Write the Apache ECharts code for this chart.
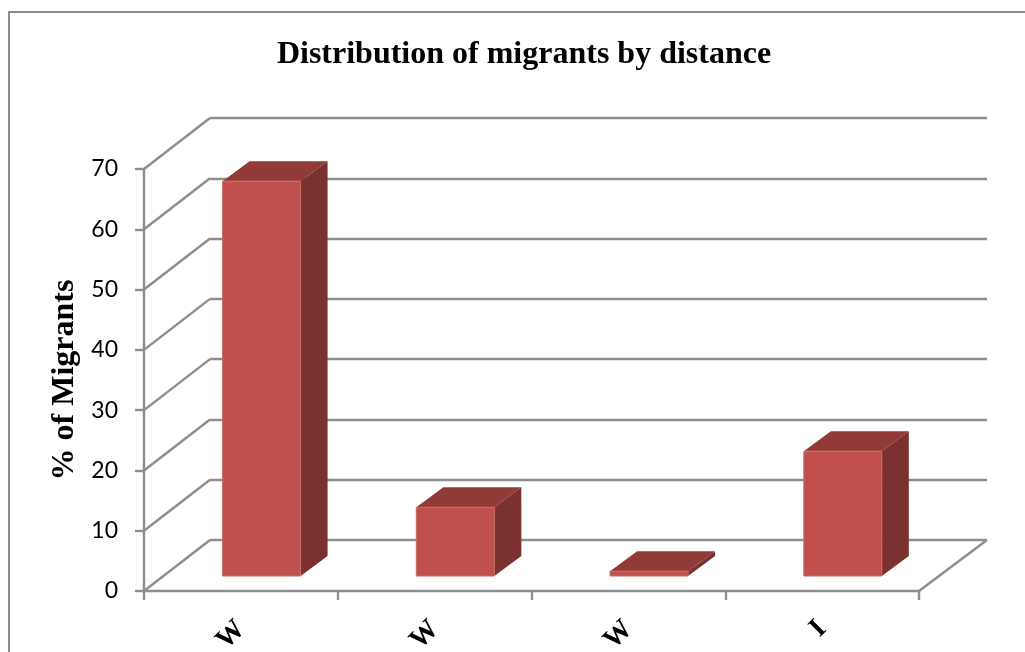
<!DOCTYPE html>
<html><head><meta charset="utf-8">
<style>html,body{margin:0;padding:0;background:#fff}#c{width:1025px;height:652px}</style>
<script src="https://cdn.jsdelivr.net/npm/echarts@6/dist/echarts.min.js"></script>
</head><body><div id="c"></div>
<script>
const categories = ['W', 'W', 'W', 'I'];
const migrants = [65.5, 11.4, 0.8, 20.7];
const yTicks = [0, 10, 20, 30, 40, 50, 60, 70];
const titleText = 'Distribution of migrants by distance';
const yName = '% of Migrants';

const W = 1025, H = 652;
const wall = { dx: 66, dy: -51 };
const GRID = '#8e8e8e';
const LW = 2.4;
const chart = echarts.init(document.getElementById('c'), null, { renderer: 'canvas', width: W, height: H });

function box(params, api) {
  const i = api.value(0), v = api.value(1);
  const top = api.coord([i, v]), base = api.coord([i, 0]);
  const w = 78, off = { x: 20.7, y: -15 }, d = { x: 27, y: -20 };
  const x0 = top[0] + off.x - w / 2, x1 = x0 + w;
  const y0 = top[1] + off.y, y1 = base[1] + off.y;
  return { type: 'group', children: [
    { type: 'polygon', shape: { points: [[x0, y0], [x1, y0], [x1 + d.x, y0 + d.y], [x0 + d.x, y0 + d.y]] }, style: { fill: '#923a38' } },
    { type: 'polygon', shape: { points: [[x1, y0], [x1 + d.x, y0 + d.y], [x1 + d.x, y1 + d.y], [x1, y1]] }, style: { fill: '#7b312f' } },
    { type: 'rect', shape: { x: x0, y: y0, width: w, height: y1 - y0 }, style: { fill: '#c0504d', stroke: '#c96a67', lineWidth: 1 } }
  ] };
}
function diagonal(params, api) {
  const p = api.coord([0, api.value(1)]);
  const half = api.size([1, 0])[0] / 2;
  const x = p[0] - half;
  return { type: 'line', shape: { x1: x, y1: p[1], x2: x + wall.dx, y2: p[1] + wall.dy }, style: { stroke: GRID, lineWidth: LW } };
}
function floorEdge(params, api) {
  const p = api.coord([categories.length - 1, 0]);
  const half = api.size([1, 0])[0] / 2;
  const x = p[0] + half;
  return { type: 'line', shape: { x1: x, y1: p[1], x2: x + wall.dx + 2, y2: p[1] + wall.dy }, style: { stroke: GRID, lineWidth: LW } };
}

chart.setOption({
  animation: false,
  backgroundColor: '#fff',
  title: { text: titleText, left: 519, top: 34, textAlign: 'center',
    textStyle: { fontFamily: 'Liberation Serif', fontWeight: 'bold', fontSize: 32, color: '#000' } },
  graphic: [
    { type: 'rect', silent: true, z: -1, shape: { x: 9, y: 12, width: 1040, height: 700 }, style: { fill: 'none', stroke: '#8c8c8c', lineWidth: 2 } }
  ],
  grid: [
    { left: 144, width: 775, top: 169, height: 422, outerBoundsMode: 'none' },
    { left: 210, width: 777, top: 118, height: 422, outerBoundsMode: 'none' }
  ],
  xAxis: [
    { type: 'category', gridIndex: 0, data: categories, boundaryGap: true,
      axisLine: { lineStyle: { color: GRID, width: LW } },
      axisTick: { show: true, length: 9, lineStyle: { color: GRID, width: LW } },
      axisLabel: { rotate: 45, margin: 34, interval: 0, fontFamily: 'Liberation Serif', fontWeight: 'bold', fontSize: 28, color: '#000' } },
    { type: 'category', gridIndex: 1, data: categories, show: false }
  ],
  yAxis: [
    { type: 'value', gridIndex: 0, min: 0, max: 70, interval: 10,
      name: yName, nameLocation: 'middle', nameGap: 58, nameRotate: 90,
      nameTextStyle: { fontFamily: 'Liberation Serif', fontWeight: 'bold', fontSize: 32, color: '#000' },
      axisLine: { show: true, lineStyle: { color: GRID, width: LW } },
      axisTick: { show: true, length: 9, lineStyle: { color: GRID, width: LW } },
      axisLabel: { margin: 26, fontFamily: 'Lato', fontSize: 23, color: '#000' },
      splitLine: { show: false } },
    { type: 'value', gridIndex: 1, min: 0, max: 70, interval: 10,
      axisLine: { show: false }, axisTick: { show: false }, axisLabel: { show: false },
      splitLine: { show: true, lineStyle: { color: GRID, width: LW } } }
  ],
  series: [
    { type: 'custom', coordinateSystem: 'cartesian2d', xAxisIndex: 0, yAxisIndex: 0, renderItem: diagonal, data: yTicks.map(v => [0, v]), encode: { x: 0, y: 1 }, silent: true, z: 1 },
    { type: 'custom', coordinateSystem: 'cartesian2d', xAxisIndex: 0, yAxisIndex: 0, renderItem: floorEdge, data: [[0, 0]], encode: { x: 0, y: 1 }, silent: true, z: 1 },
    { type: 'custom', coordinateSystem: 'cartesian2d', xAxisIndex: 0, yAxisIndex: 0, renderItem: box, data: migrants.map((v, i) => [i, v]), encode: { x: 0, y: 1 }, z: 3 }
  ]
});
</script></body></html>
